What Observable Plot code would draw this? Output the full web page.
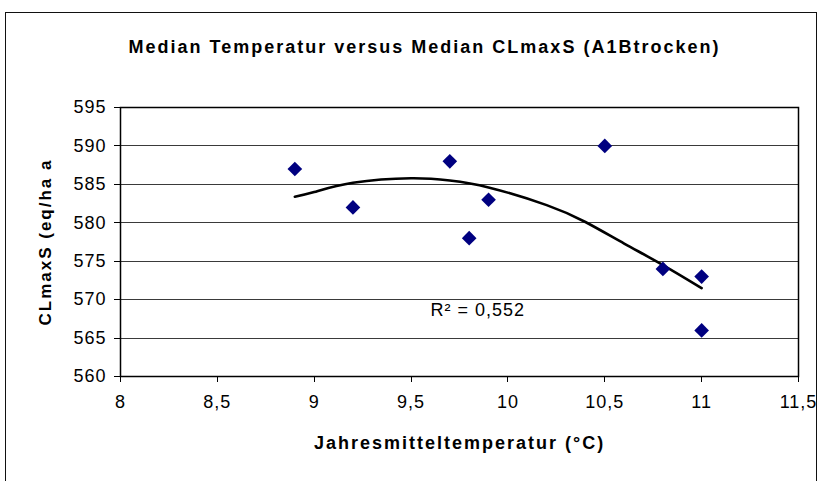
<!DOCTYPE html>
<html>
<head>
<meta charset="utf-8">
<script src="https://cdn.jsdelivr.net/npm/d3@7"></script>
<script src="https://cdn.jsdelivr.net/npm/@observablehq/plot@0.6"></script>
<style>
  html, body { margin: 0; padding: 0; background: #fff; }
  #wrap { position: relative; width: 824px; height: 481px; overflow: hidden; }
  #border { position: absolute; left: 5px; top: 12px; width: 810px; height: 500px;
            border: 1.5px solid #111; }
  #chart { position: absolute; left: 0; top: 0; }
  #chart svg { font-family: 'Liberation Sans', Arial, sans-serif; letter-spacing: 1px; }
  #chart g[font-weight="bold"] { letter-spacing: 2px; }
</style>
</head>
<body>
<div id="wrap"><div id="border"></div><div id="chart"></div></div>
<script>
// Data points (Median Temperatur vs Median CLmaxS)
const temperature = [8.9, 9.2, 9.7, 9.8, 9.9, 10.5, 10.8, 11.0, 11.0];
const clmaxs      = [587, 582, 588, 578, 583, 590, 574, 573, 566];

// Polynomial trendline
const trendX = [8.9, 9.0, 9.2, 9.5, 9.7, 9.9, 10.2, 10.4, 10.6, 10.8, 11.0];
const trendY = [583.4, 584.0, 585.2, 585.8, 585.5, 584.6, 582.3, 580.1, 577.3, 574.5, 571.5];

const xTicks = [8, 8.5, 9, 9.5, 10, 10.5, 11, 11.5];
const yTicks = [560, 565, 570, 575, 580, 585, 590, 595];

const titleText = "Median Temperatur versus Median CLmaxS (A1Btrocken)";
const xLabel = "Jahresmitteltemperatur (°C)";
const yLabel = "CLmaxS (eq/ha a";
const r2Text = "R² = 0,552";

const points = temperature.map((t, i) => ({t, v: clmaxs[i]}));
const trend = trendX.map((t, i) => ({t, v: trendY[i]}));
const fmt = d => String(d).replace(".", ",");

const chart = Plot.plot({
  width: 824,
  height: 481,
  marginLeft: 120,
  marginRight: 26,
  marginTop: 107,
  marginBottom: 105,
  style: {background: "transparent", overflow: "visible", color: "#000"},
  x: {domain: [8, 11.5]},
  y: {domain: [560, 595]},
  marks: [
    Plot.gridY(yTicks, {stroke: "#3a3a3a", strokeOpacity: 1, strokeWidth: 1, shapeRendering: "crispEdges"}),
    Plot.frame({stroke: "#000", strokeWidth: 1.5}),
    Plot.axisX(xTicks, {tickFormat: () => "", tickSize: 6, label: null, stroke: "#000", shapeRendering: "crispEdges"}),
    Plot.axisY(yTicks, {tickFormat: () => "", tickSize: 6, label: null, stroke: "#000", shapeRendering: "crispEdges"}),
    Plot.text(xTicks, {x: d => d, frameAnchor: "bottom", dy: 31, text: fmt, fontSize: 18, fill: "#000"}),
    Plot.text(yTicks, {y: d => d, frameAnchor: "left", dx: -14, textAnchor: "end", text: fmt, fontSize: 18, fill: "#000"}),
    Plot.line(trend, {x: "t", y: "v", stroke: "#000", strokeWidth: 2.6, curve: "natural"}),
    Plot.dot(points, {x: "t", y: "v", symbol: "diamond2", r: 6.6, fill: "#000080", stroke: "none"}),
    Plot.text([r2Text], {x: 9.6, y: 568.6, text: d => d, textAnchor: "start", fontSize: 18, fill: "#000"}),
    Plot.text([titleText], {frameAnchor: "top", dx: -35, dy: -67, text: d => d, fontSize: 18, fontWeight: "bold", fill: "#000"}),
    Plot.text([xLabel], {frameAnchor: "bottom", dy: 72, text: d => d, fontSize: 18, fontWeight: "bold", fill: "#000"}),
    Plot.text([yLabel], {frameAnchor: "left", dx: -75, rotate: -90, textAnchor: "middle", text: d => d, fontSize: 17, fontWeight: "bold", fill: "#000"})
  ]
});
document.getElementById("chart").appendChild(chart);
</script>
</body>
</html>
